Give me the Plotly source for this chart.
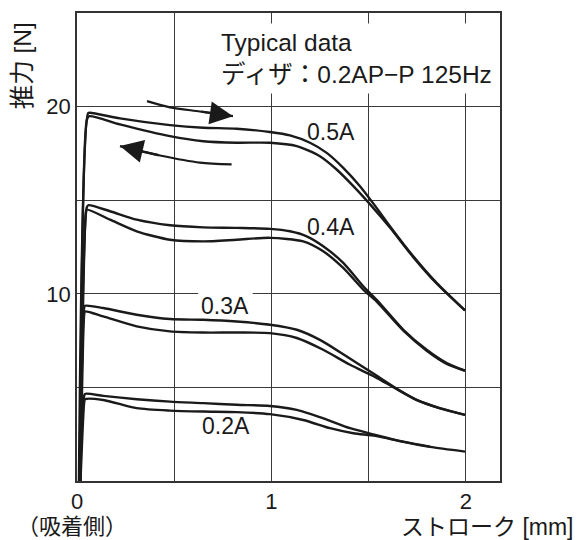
import plotly.graph_objects as go

# ---- data (stroke [mm], thrust [N]) ----
x_05_a = [0.010, 0.057, 0.067, 0.221, 0.478, 0.649, 0.821, 0.992, 1.095, 1.198, 1.284, 1.369, 1.455, 1.532, 1.609, 1.729, 1.849, 1.995]
y_05_a = [0.0, 19.64, 19.67, 19.37, 19.01, 18.87, 18.82, 18.64, 18.46, 18.07, 17.53, 16.73, 15.75, 14.71, 13.61, 12.00, 10.58, 9.11]
x_05_b = [0.015, 0.051, 0.063, 0.221, 0.478, 0.649, 0.821, 0.992, 1.130, 1.249, 1.335, 1.421, 1.523, 1.609, 1.729, 1.849, 1.995]
y_05_b = [0.0, 19.30, 19.49, 19.05, 18.42, 18.15, 18.07, 18.07, 17.89, 17.35, 16.64, 15.75, 14.59, 13.54, 11.96, 10.55, 9.11]

x_04_a = [0.012, 0.050, 0.058, 0.170, 0.307, 0.478, 0.649, 0.821, 0.992, 1.095, 1.181, 1.266, 1.369, 1.472, 1.541, 1.678, 1.798, 1.901, 1.995]
y_04_a = [0.0, 14.60, 14.73, 14.41, 13.96, 13.66, 13.55, 13.52, 13.47, 13.34, 13.07, 12.54, 11.65, 10.40, 9.68, 8.08, 7.01, 6.30, 5.89]
x_04_b = [0.016, 0.045, 0.050, 0.170, 0.307, 0.478, 0.649, 0.821, 0.992, 1.163, 1.266, 1.369, 1.472, 1.541, 1.678, 1.798, 1.901, 1.995]
y_04_b = [0.0, 14.30, 14.50, 13.96, 13.34, 12.89, 12.80, 12.89, 12.99, 12.80, 12.27, 11.38, 10.22, 9.58, 8.03, 6.96, 6.26, 5.89]

x_03_a = [0.014, 0.036, 0.041, 0.135, 0.307, 0.478, 0.649, 0.821, 0.992, 1.130, 1.249, 1.387, 1.534, 1.626, 1.747, 1.866, 1.995]
y_03_a = [0.0, 9.20, 9.36, 9.24, 8.88, 8.65, 8.61, 8.52, 8.35, 8.08, 7.54, 6.65, 5.67, 5.05, 4.33, 3.89, 3.53]
x_03_b = [0.018, 0.037, 0.041, 0.135, 0.307, 0.478, 0.649, 0.821, 0.992, 1.130, 1.266, 1.404, 1.534, 1.626, 1.747, 1.866, 1.995]
y_03_b = [0.0, 8.90, 9.06, 8.79, 8.26, 7.99, 7.93, 7.93, 7.90, 7.64, 7.01, 6.21, 5.55, 5.01, 4.32, 3.88, 3.53]

x_02_a = [0.014, 0.036, 0.041, 0.135, 0.307, 0.478, 0.649, 0.821, 0.992, 1.130, 1.266, 1.404, 1.534, 1.678, 1.815]
y_02_a = [0.0, 4.50, 4.65, 4.55, 4.37, 4.24, 4.16, 4.07, 4.01, 3.80, 3.35, 2.82, 2.46, 2.10, 1.84]
x_02_b = [0.018, 0.037, 0.041, 0.135, 0.307, 0.478, 0.649, 0.821, 0.992, 1.163, 1.301, 1.421, 1.534, 1.678, 1.815, 1.995]
y_02_b = [0.0, 4.20, 4.37, 4.33, 3.89, 3.76, 3.71, 3.68, 3.57, 3.26, 2.82, 2.55, 2.41, 2.09, 1.82, 1.57]

series = [(x_05_a, y_05_a), (x_05_b, y_05_b), (x_04_a, y_04_a), (x_04_b, y_04_b),
          (x_03_a, y_03_a), (x_03_b, y_03_b), (x_02_a, y_02_a), (x_02_b, y_02_b)]

# direction arrows (push / return)
arrow_out_x = [0.360, 0.478, 0.632, 0.802]
arrow_out_y = [20.29, 19.96, 19.74, 19.49]
arrow_back_x = [0.795, 0.632, 0.427, 0.221]
arrow_back_y = [16.91, 17.01, 17.39, 17.89]

curve_labels = ["0.5A", "0.4A", "0.3A", "0.2A"]
label_x = [1.306, 1.306, 0.763, 0.766]
label_y = [18.67, 13.59, 9.34, 2.92]

x_tickvals = [0, 0.5, 1, 1.5, 2]
x_ticktext = ["0", "", "1", "", "2"]
y_tickvals = [5, 10, 15, 20]
y_ticktext = ["", "10", "", "20"]

FONT = "Liberation Sans, Arial, Noto Sans CJK JP, sans-serif"
INK = "#1a1a1a"

fig = go.Figure()
for xs, ys in series:
    fig.add_trace(go.Scatter(x=xs, y=ys, mode="lines",
                             line=dict(color=INK, width=2.4, shape="spline", smoothing=0.7),
                             hoverinfo="skip", showlegend=False))

for ax_, ay_ in [(arrow_out_x, arrow_out_y), (arrow_back_x, arrow_back_y)]:
    fig.add_trace(go.Scatter(x=ax_, y=ay_, mode="lines",
                             line=dict(color=INK, width=2.2, shape="spline", smoothing=0.8),
                             hoverinfo="skip", showlegend=False))
    fig.add_annotation(x=ax_[-1], y=ay_[-1], ax=ax_[-2], ay=ay_[-2],
                       xref="x", yref="y", axref="x", ayref="y",
                       showarrow=True, arrowhead=2, arrowsize=2.1, arrowwidth=2.2,
                       arrowcolor=INK, text="")

for t, lx, ly in zip(curve_labels, label_x, label_y):
    fig.add_annotation(x=lx, y=ly, xref="x", yref="y", text=t, showarrow=False,
                       xanchor="center", yanchor="middle",
                       font=dict(size=23, color=INK, family=FONT))

# white gap in the 10 N grid line behind the 0.3A label
fig.add_shape(type="rect", xref="x", yref="y", layer="between",
              x0=label_x[2] - 0.14, x1=label_x[2] + 0.14, y0=9.7, y1=10.3,
              fillcolor="white", line=dict(width=0))

fig.add_annotation(x=0.71, y=24.45, xref="x", yref="y", xanchor="left", yanchor="top",
                   align="left", showarrow=False, bgcolor="white", borderpad=5,
                   text="Typical data<br>ディザ：0.2AP−P 125Hz",
                   font=dict(size=24.5, color=INK, family=FONT))

fig.add_annotation(x=-0.128, y=0.888, xref="paper", yref="paper", textangle=-90,
                   xanchor="center", yanchor="middle",
                   text="推力 [N]", showarrow=False,
                   font=dict(size=24.5, color=INK, family=FONT))
fig.add_annotation(x=-0.012, y=-0.097, xref="paper", yref="paper",
                   xanchor="center", yanchor="middle",
                   text="（吸着側）", showarrow=False,
                   font=dict(size=22, color=INK, family=FONT))
fig.add_annotation(x=1.18, y=-0.098, xref="paper", yref="paper",
                   xanchor="right", yanchor="middle",
                   text="ストローク [mm]", showarrow=False,
                   font=dict(size=23, color=INK, family=FONT))

fig.update_xaxes(range=[0, 2.175], tickvals=x_tickvals, ticktext=x_ticktext,
                 showgrid=True, gridcolor="#3a3a3a", gridwidth=1, zeroline=False,
                 showline=True, mirror=True, linecolor="#333", linewidth=1.5,
                 ticks="", ticklabelstandoff=0,
                 tickfont=dict(size=22, color=INK, family=FONT))
fig.update_yaxes(range=[0, 25], tickvals=y_tickvals, ticktext=y_ticktext,
                 showgrid=True, gridcolor="#3a3a3a", gridwidth=1, zeroline=False,
                 showline=True, mirror=True, linecolor="#333", linewidth=1.5,
                 ticks="", ticklabelstandoff=0,
                 tickfont=dict(size=22, color=INK, family=FONT))

fig.update_layout(width=578, height=540, margin=dict(l=77, r=78, t=13, b=59),
                  paper_bgcolor="white", plot_bgcolor="white",
                  font=dict(family=FONT, color=INK), showlegend=False)

fig.write_html("out.html")
